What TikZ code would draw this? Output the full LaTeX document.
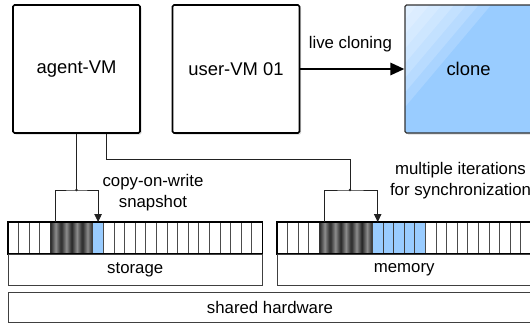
\documentclass[tikz,border=0pt]{standalone}
\usepackage{fontspec}
\setmainfont{Liberation Sans}
\usetikzlibrary{arrows.meta,shadows,calc}
\definecolor{cloneblue}{HTML}{99CCFF}
\definecolor{lineink}{HTML}{222222}

\tikzset{
  vmbox/.style={draw=black, line width=1.6pt, rounded corners=1.5pt,
    minimum width=127pt, minimum height=128pt, inner sep=0pt, fill=white,
    font=\fontsize{18.4}{22}\selectfont,
    drop shadow={shadow xshift=1.5pt, shadow yshift=-1.5pt, opacity=0.3}},
  % glossy highlight: nested triangles in the top-left corner
  clonebox/.style={vmbox, draw=black!80, line width=1.1pt, fill=cloneblue,
    path picture={
      \foreach \k in {1,...,7}{
        \fill[white, opacity=0.17]
          (path picture bounding box.north west)
          -- ($(path picture bounding box.north west)+({86pt*\k/7},0)$)
          -- ($(path picture bounding box.north west)+(0,{-102pt*\k/7})$) -- cycle;
      }
    }},
  hwbox/.style={draw=black!75, line width=0.8pt, fill=white, inner sep=0pt,
    minimum height=31pt, font=\fontsize{16.8}{20}\selectfont,
    drop shadow={shadow xshift=1pt, shadow yshift=-1pt, opacity=0.25}},
  cellw/.style={draw=black!70, line width=0.7pt, fill=white, inner sep=0pt,
    outer sep=0pt, minimum width=10.6pt, minimum height=32pt},
  celld/.style={cellw, draw=black!80, left color=black!85, right color=black!85,
    middle color=black!45},
  cellb/.style={cellw, draw=black!75, fill=cloneblue},
  strip/.style={line width=1.4pt, draw=black},
  conn/.style={draw=lineink, line width=0.8pt},
  tip/.style={-{Triangle[length=8pt,width=7.5pt]}},
  lbl/.style={font=\fontsize{16.8}{21}\selectfont, align=center, inner sep=0pt},
}

\begin{document}
\begin{tikzpicture}[x=1pt,y=-1pt]
\useasboundingbox (0,0) rectangle (530,324);
\clip (0,0) rectangle (530,324);

% virtual machines
\node[vmbox] (agent) at (76.5,69) {agent-VM};
\node[vmbox] (user) at (236,69) {user-VM 01};
\node[clonebox] (clone) at (468.5,69) {clone};

\draw[line width=2.8pt, -{Triangle[length=14pt,width=12pt]}] (user.east) -- (clone.west)
  node[midway, lbl, yshift=25pt, xshift=-2pt] (livelbl) {live cloning};

% storage blocks
\foreach \i in {0,...,3}  {\node[cellw] (s\i) at ({8+10.6*(\i+0.5)},238) {};}
\foreach \i in {4,...,7}  {\node[celld] (s\i) at ({8+10.6*(\i+0.5)},238) {};}
\foreach \i in {8}        {\node[cellb] (s\i) at ({8+10.6*(\i+0.5)},238) {};}
\foreach \i in {9,...,23} {\node[cellw] (s\i) at ({8+10.6*(\i+0.5)},238) {};}
\draw[strip] (s0.north west) rectangle (s23.south east);
\node[hwbox, minimum width=254.4pt] (storage) at (135.2,269.5) {storage};

% memory pages
\foreach \i in {0,...,3}  {\node[cellw] (m\i) at ({277+10.6*(\i+0.5)},238) {};}
\foreach \i in {4,...,8}  {\node[celld] (m\i) at ({277+10.6*(\i+0.5)},238) {};}
\foreach \i in {9,...,13} {\node[cellb] (m\i) at ({277+10.6*(\i+0.5)},238) {};}
\foreach \i in {14,...,23}{\node[cellw] (m\i) at ({277+10.6*(\i+0.5)},238) {};}
\draw[strip] (m0.north west) rectangle (m23.south east);
\node[hwbox, minimum width=254.4pt] (memory) at (404.2,269.5) {memory};

% shared hardware
\node[hwbox, minimum width=524pt, minimum height=30pt] (hw) at (270,307) {shared hardware};

% copy-on-write snapshot of the storage
\coordinate (j1) at (agent.south |- 0,190);
\draw[conn] (agent.south) -- (j1);
\fill[lineink] (j1) circle (1.3pt);
\draw[conn, tip] (s4.north) |- (j1) -| (s8.north);
\node[lbl] (cowlbl) at (153,193) {copy-on-write\\snapshot};

% iterative memory synchronization
\coordinate (a2) at ($(agent.south)+(29.5pt,0)$);
\coordinate (j2) at (350,190);
\coordinate (bend) at (j2 |- 0,159);
\draw[conn] (a2) |- (bend) -- (j2);
\fill[lineink] (j2) circle (1.3pt);
\draw[conn, tip] (m4.north) |- (j2) -| (m9.north);
\node[lbl] (synclbl) at (460.5,181) {multiple iterations\\for synchronization};
\end{tikzpicture}
\end{document}
